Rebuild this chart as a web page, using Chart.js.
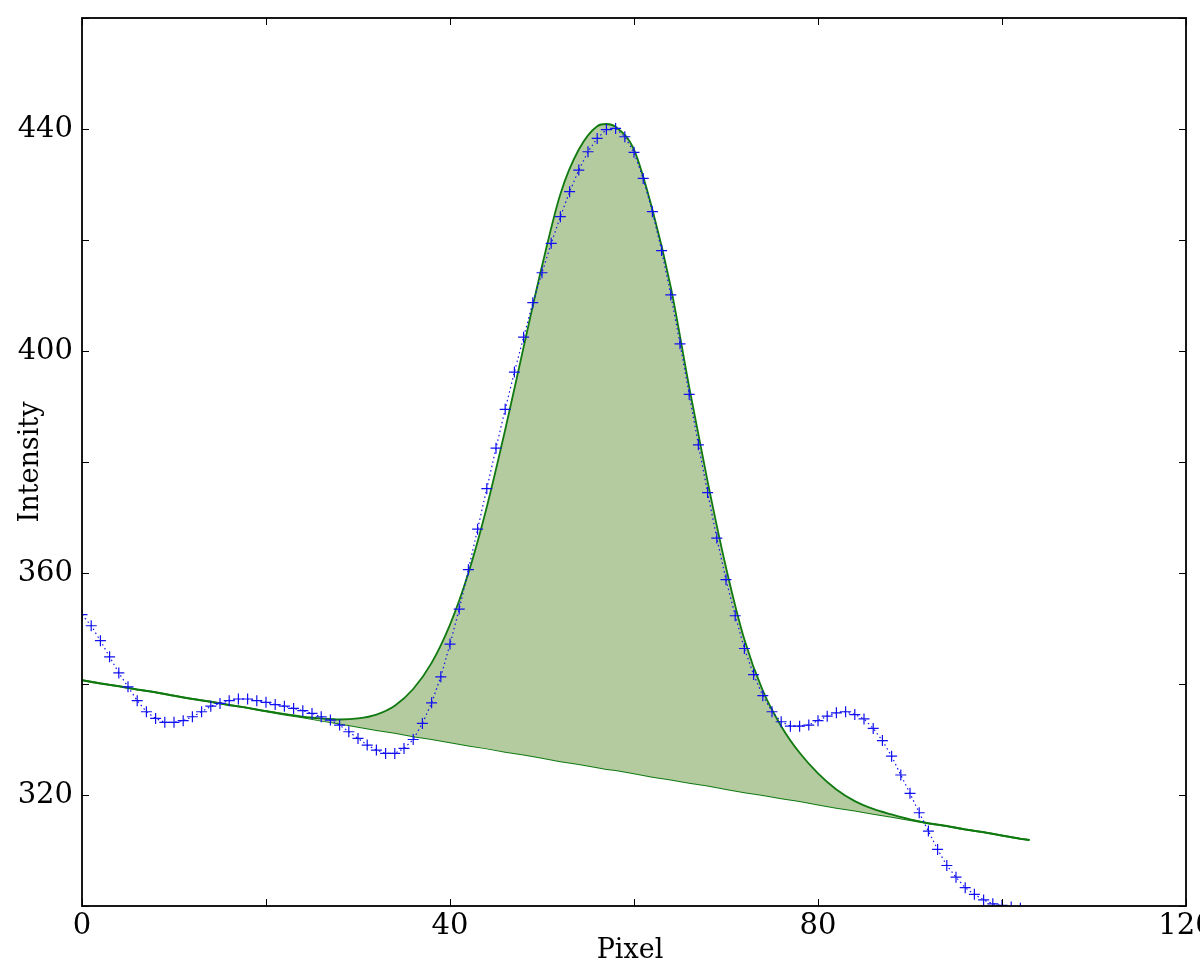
<!DOCTYPE html>
<html>
<head>
<meta charset="utf-8">
<script src="https://cdn.jsdelivr.net/npm/chart.js@4"></script>
<style>
  html, body { margin: 0; padding: 0; background: #fff; }
</style>
</head>
<body>
<canvas id="profile" width="1200" height="966"></canvas>
<script>
// measured intensity, one value per pixel (x = 0 .. 102)
const intensity = [
  352.5, 350.5, 347.8, 344.9, 342.0, 339.5, 337.0, 335.0, 333.8, 333.1,
  333.1, 333.4, 334.1, 335.0, 336.0, 336.5, 337.0, 337.3, 337.3, 337.0,
  336.7, 336.3, 336.0, 335.6, 335.2, 334.7, 334.1, 333.5, 332.6, 331.4,
  330.2, 329.0, 328.1, 327.5, 327.5, 328.4, 330.0, 332.9, 336.6, 341.3,
  347.2, 353.5, 360.6, 367.9, 375.2, 382.5, 389.5, 396.2, 402.5, 408.7,
  414.1, 419.4, 424.2, 428.7, 432.6, 435.9, 438.3, 439.9, 440.1, 438.6,
  435.8, 431.1, 425.1, 418.1, 410.1, 401.3, 392.2, 383.1, 374.5, 366.3,
  358.8, 352.3, 346.4, 341.7, 337.9, 335.0, 333.2, 332.4, 332.4, 332.6,
  333.4, 334.2, 334.8, 335.0, 334.5, 333.7, 332.0, 329.8, 327.0, 323.6,
  320.3, 316.8, 313.5, 310.2, 307.3, 305.2, 303.3, 302.1, 301.1, 300.4,
  300.1, 299.8, 299.6
];

// fitted peak and its linear background, read at these pixels
const fitPixel = [
  0, 2, 4, 6, 8, 10, 12, 14, 16, 18, 20, 22, 24, 26, 28, 30, 32, 34, 36, 38,
  40, 42, 44, 46, 48, 50, 52, 54, 56, 57, 58, 60, 62, 64, 66, 68, 70, 72, 74, 76,
  78, 80, 82, 84, 86, 88, 90, 92, 94, 96, 98, 100, 102, 103
];
const fitCurve = [
  340.7, 340.1, 339.6, 339.0, 338.5, 337.9, 337.3, 336.8, 336.2, 335.7,
  335.1, 334.6, 334.1, 333.8, 333.6, 333.8, 334.5, 336.1, 339.1, 343.8,
  350.7, 360.0, 371.9, 385.8, 400.7, 415.3, 428.3, 436.3, 440.5, 440.9,
  440.4, 436.3, 425.5, 411.5, 393.5, 376.5, 361.0, 348.0, 338.8, 332.4,
  327.6, 323.9, 321.0, 318.9, 317.5, 316.5, 315.6, 314.9, 314.4, 313.8,
  313.3, 312.7, 312.1, 311.9
];
const fitBase = [
  340.7, 340.1, 339.6, 339.0, 338.5, 337.9, 337.3, 336.8, 336.2, 335.7,
  335.1, 334.5, 334.0, 333.4, 332.9, 332.3, 331.7, 331.2, 330.6, 330.1,
  329.5, 328.9, 328.4, 327.8, 327.3, 326.7, 326.1, 325.6, 325.0, 324.7,
  324.5, 323.9, 323.3, 322.8, 322.2, 321.7, 321.1, 320.5, 320.0, 319.4,
  318.9, 318.3, 317.7, 317.2, 316.6, 316.1, 315.5, 314.9, 314.4, 313.8,
  313.3, 312.7, 312.1, 311.9
];

const xTicks = [0, 20, 40, 60, 80, 100, 120];
const xTickLabels = ['0', '', '40', '', '80', '', '120'];
const yTicks = [300, 320, 340, 360, 380, 400, 420, 440, 460];
const yTickLabels = ['', '320', '', '360', '', '400', '', '440', ''];

const BLUE = '#1010f0';
const GREEN = '#107a10';
const FILL = 'rgb(180,202,159)';
const FONT = '"DejaVu Serif", serif';

// frame, inward ticks, tick labels and axis titles
const axesFrame = {
  id: 'axesFrame',
  afterDraw(chart) {
    const ctx = chart.ctx;
    const a = chart.chartArea;
    const xs = chart.scales.x, ys = chart.scales.y;
    const len = 7;
    ctx.save();
    ctx.strokeStyle = '#000';
    ctx.lineWidth = 1;
    ctx.beginPath();
    xTicks.forEach(v => {
      const px = Math.round(xs.getPixelForValue(v)) + 0.5;
      ctx.moveTo(px, a.bottom); ctx.lineTo(px, a.bottom - len);
      ctx.moveTo(px, a.top); ctx.lineTo(px, a.top + len);
    });
    yTicks.forEach(v => {
      const py = Math.round(ys.getPixelForValue(v)) + 0.5;
      ctx.moveTo(a.left, py); ctx.lineTo(a.left + len, py);
      ctx.moveTo(a.right, py); ctx.lineTo(a.right - len, py);
    });
    ctx.stroke();

    ctx.lineWidth = 1.8;
    ctx.strokeRect(a.left, a.top, a.right - a.left, a.bottom - a.top);

    ctx.fillStyle = '#000';
    ctx.font = '29px ' + FONT;
    ctx.textAlign = 'center';
    ctx.textBaseline = 'top';
    xTicks.forEach((v, i) => {
      if (xTickLabels[i]) ctx.fillText(xTickLabels[i], xs.getPixelForValue(v), a.bottom + 6);
    });
    ctx.textAlign = 'right';
    ctx.textBaseline = 'middle';
    yTicks.forEach((v, i) => {
      if (yTickLabels[i]) ctx.fillText(yTickLabels[i], a.left - 9, ys.getPixelForValue(v));
    });

    ctx.font = '27px ' + FONT;
    ctx.textAlign = 'center';
    ctx.textBaseline = 'alphabetic';
    ctx.fillText('Pixel', (a.left + a.right) / 2 - 4, a.bottom + 52);
    ctx.translate(38, (a.top + a.bottom) / 2);
    ctx.rotate(-Math.PI / 2);
    ctx.fillText('Intensity', 0, 0);
    ctx.restore();
  }
};

new Chart(document.getElementById('profile'), {
  type: 'line',
  data: {
    datasets: [
      {
        label: 'data',
        data: intensity.map((v, i) => ({ x: i, y: v })),
        borderColor: BLUE,
        borderWidth: 1.2,
        borderDash: [1.5, 3],
        pointStyle: 'cross',
        pointRadius: 5.5,
        pointBorderColor: BLUE,
        pointBorderWidth: 1.2,
        fill: false,
        tension: 0
      },
      {
        label: 'fit',
        data: fitPixel.map((p, i) => ({ x: p, y: fitCurve[i] })),
        borderColor: GREEN,
        borderWidth: 1.8,
        pointRadius: 0,
        cubicInterpolationMode: 'monotone',
        fill: { target: 2 },
        backgroundColor: FILL
      },
      {
        label: 'background',
        data: fitPixel.map((p, i) => ({ x: p, y: fitBase[i] })),
        borderColor: GREEN,
        borderWidth: 2,
        pointRadius: 0,
        fill: false,
        tension: 0
      }
    ]
  },
  options: {
    responsive: false,
    animation: false,
    layout: { padding: { left: 82, right: 14, top: 18, bottom: 60 } },
    plugins: {
      legend: { display: false },
      tooltip: { enabled: false }
    },
    scales: {
      x: { type: 'linear', min: 0, max: 120, display: false },
      y: { type: 'linear', min: 300, max: 460, display: false }
    }
  },
  plugins: [axesFrame]
});
</script>
</body>
</html>
